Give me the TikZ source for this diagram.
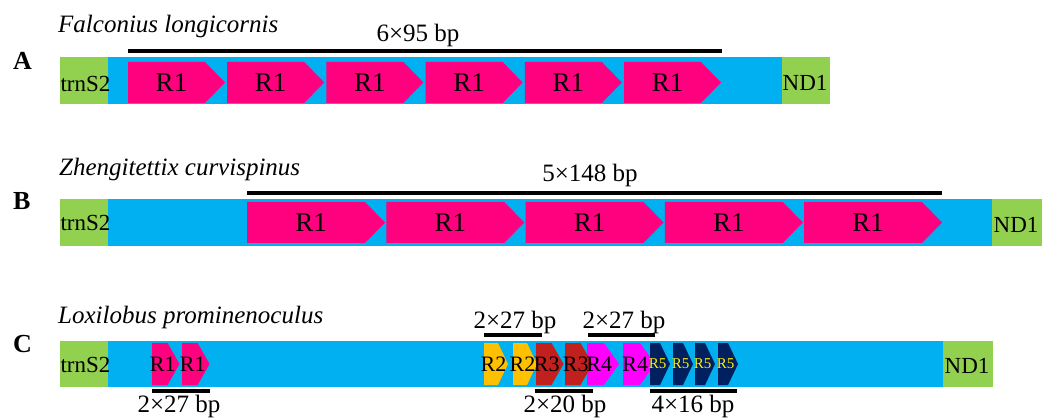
\documentclass[tikz,border=0pt]{standalone}
\usepackage{fontspec}
\setmainfont{Liberation Serif}

\definecolor{geneGreen}{HTML}{92D050}
\definecolor{crBlue}{HTML}{00B0F0}
\definecolor{rOne}{HTML}{FF007F}
\definecolor{rTwo}{HTML}{FFC000}
\definecolor{rThree}{HTML}{C21F1F}
\definecolor{rFour}{HTML}{FF00FF}
\definecolor{rFive}{HTML}{002060}
\definecolor{rFiveText}{HTML}{FFF000}

\pgfdeclarelayer{bars}
\pgfdeclarelayer{units}
\pgfsetlayers{bars,units,main}

% repeat unit: name, x, top, width, height, tip length, fill style, text style, label
\newcommand\repunit[9]{%
  \begin{pgfonlayer}{units}
    \fill[#7] (#2,#3) -- ++({#4-#6},0) -- ++(#6,{#5/2}) -- ++({-#6},{#5/2}) -- ++({#6-#4},0) -- cycle;
  \end{pgfonlayer}
  \node[#8] (#1) at ({#2+#4/2-#6/4},{#3+#5/2}) {#9};
}

\tikzset{
  fs/.style={font={\fontsize{#1}{#1}\selectfont}},
  genebox/.style={fill=geneGreen},
  ctrlregion/.style={fill=crBlue},
  genename/.style={anchor=base, inner sep=0pt, fs=23},
  panel/.style={anchor=base west, inner sep=0pt, font={\fontsize{26}{26}\selectfont\bfseries}},
  species/.style={anchor=base west, inner sep=0pt, font={\fontsize{25}{25}\selectfont\itshape}},
  bplabel/.style={anchor=base, inner sep=0pt, fs=25},
  scalebar/.style={line width=3.5pt},
  bigunit/.style={inner sep=0pt, fs=27},
  smallunit/.style={inner sep=0pt, fs=22},
  tinyunit/.style={inner sep=0pt, fs=15, text=rFiveText},
}

\begin{document}
\begin{tikzpicture}[x=1pt,y=-1pt]
\useasboundingbox (0,0) rectangle (1048,419);

% ---------- A: Falconius longicornis ----------
\begin{pgfonlayer}{bars}
  \fill[genebox] (60,57) rectangle (108,104);
  \fill[ctrlregion] (108,57) rectangle (782,104);
  \fill[genebox] (782,57) rectangle (830,104);
\end{pgfonlayer}
\node[panel] (labA) at (13,70) {A};
\node[species] (spA) at (58,33) {Falconius longicornis};
\node[genename] (trnA) at (85.5,92) {trnS2};
\node[genename] (ndA) at (805,91) {ND1};
\foreach \i in {0,...,5}
  \repunit{a\i}{128+99.2*\i}{62}{97}{41}{20}{fill=rOne}{bigunit}{R1};
\draw[scalebar] (128,51) -- (722,51);
\node[bplabel] (bpA) at (418,42) {6×95 bp};

% ---------- B: Zhengitettix curvispinus ----------
\begin{pgfonlayer}{bars}
  \fill[genebox] (60,199) rectangle (108,246);
  \fill[ctrlregion] (108,199) rectangle (992,246);
  \fill[genebox] (992,199) rectangle (1042,246);
\end{pgfonlayer}
\node[panel] (labB) at (13,210) {B};
\node[species] (spB) at (59,176) {Zhengitettix curvispinus};
\node[genename] (trnB) at (85.5,231) {trnS2};
\node[genename] (ndB) at (1016,233) {ND1};
\foreach \i in {0,...,4}
  \repunit{b\i}{247+139.25*\i}{202}{138}{41}{20}{fill=rOne}{bigunit}{R1};
\draw[scalebar] (247,193) -- (942,193);
\node[bplabel] (bpB) at (590,182) {5×148 bp};

% ---------- C: Loxilobus prominenoculus ----------
\begin{pgfonlayer}{bars}
  \fill[genebox] (60,341) rectangle (108,387);
  \fill[ctrlregion] (108,341) rectangle (943,387);
  \fill[genebox] (943,341) rectangle (993,387);
\end{pgfonlayer}
\node[panel] (labC) at (13,352) {C};
\node[species] (spC) at (58,323) {Loxilobus prominenoculus};
\node[genename] (trnC) at (85.5,372) {trnS2};
\node[genename] (ndC) at (967,373) {ND1};

\repunit{c1a}{152}{343}{27.5}{42}{12}{fill=rOne}{smallunit}{R1}
\repunit{c1b}{182}{343}{27.5}{42}{12}{fill=rOne}{smallunit}{R1}
\repunit{c2a}{484}{343}{24}{42}{10}{fill=rTwo}{smallunit}{R2}
\repunit{c2b}{513}{343}{24}{42}{10}{fill=rTwo}{smallunit}{R2}
\repunit{c4a}{587}{343}{32}{42}{15}{fill=rFour}{smallunit}{R4}
\repunit{c4b}{623}{343}{32}{42}{15}{fill=rFour}{smallunit}{R4}
\repunit{c3a}{536}{343}{27.5}{42}{12}{fill=rThree}{smallunit}{R3}
\repunit{c3b}{565}{343}{27.5}{42}{12}{fill=rThree}{smallunit}{R3}
\repunit{c5a}{650}{343}{20}{42}{10}{fill=rFive}{tinyunit}{R5}
\repunit{c5b}{673}{343}{20}{42}{10}{fill=rFive}{tinyunit}{R5}
\repunit{c5c}{695}{343}{20}{42}{10}{fill=rFive}{tinyunit}{R5}
\repunit{c5d}{718}{343}{20}{42}{10}{fill=rFive}{tinyunit}{R5}

\draw[scalebar] (152,391) -- (210,391);
\node[bplabel] (bpC1) at (179,412) {2×27 bp};
\draw[scalebar] (484,335) -- (542,335);
\node[bplabel] (bpC2) at (515,328) {2×27 bp};
\draw[scalebar] (588,335) -- (655,335);
\node[bplabel] (bpC4) at (624,328) {2×27 bp};
\draw[scalebar] (535,391) -- (593,391);
\node[bplabel] (bpC3) at (565,412) {2×20 bp};
\draw[scalebar] (650,391) -- (737,391);
\node[bplabel] (bpC5) at (693,412) {4×16 bp};
\end{tikzpicture}
\end{document}
